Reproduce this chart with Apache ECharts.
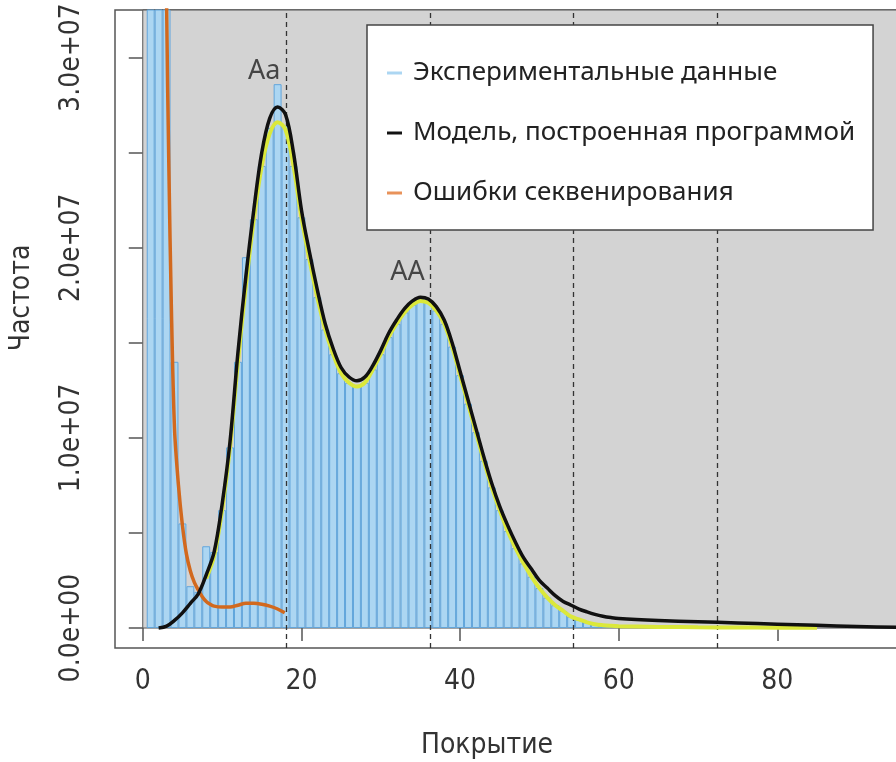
<!DOCTYPE html>
<html>
<head>
<meta charset="utf-8">
<script src="https://cdn.jsdelivr.net/npm/echarts@6/dist/echarts.min.js"></script>
<style>
  html, body { margin: 0; background: #fff; }
  #main { width: 896px; height: 762px; }
</style>
</head>
<body>
<div id="main"></div>
<script>
// frequencies are in millions (1e6)
const obsCoverage = [1,2,3,4,5,6,7,8,9,10,11,12,13,14,15,16,17,18,19,20,21,22,23,24,25,26,27,28,29,30,
  31,32,33,34,35,36,37,38,39,40,41,42,43,44,45,46,47,48,49,50,51,52,53,54,55,56,57,58,59,60];
const obsFreq = [120,70,40,14,5.5,2.2,1.9,4.3,4.0,6.2,
  9.5,14.0,19.5,21.5,24.3,26.3,28.6,26.4,24.3,21.6,
  19.4,17.4,15.7,14.4,13.4,12.9,12.7,12.9,13.6,14.4,
  15.3,16.0,16.6,17.0,17.3,17.1,16.7,16.0,14.8,13.3,
  11.8,10.3,8.8,7.4,6.2,5.1,4.2,3.4,2.7,2.1,
  1.6,1.2,0.9,0.6,0.45,0.3,0.2,0.15,0.12,0.1];

// smoothed data (yellow)
const fitCoverage = [8,9,10,11,12,13,14,15,16,17,18,19,20,21,22,23,24,25,26,27,28,29,30,31,32,33,34,35,36,37,
  38,39,40,41,42,43,44,45,46,47,48,49,50,51,52,53,54,55,56,57,58,59,60,65,70,75,80,85];
const fitFreq = [2.6,3.8,6.2,9.5,14.0,18.0,21.5,24.3,26.0,26.6,
  26.2,24.3,21.6,19.4,17.4,15.7,14.4,13.4,12.9,12.7,
  12.9,13.6,14.4,15.3,16.0,16.6,17.0,17.2,17.1,16.7,
  16.0,14.8,13.3,11.8,10.3,8.8,7.4,6.2,5.1,4.2,
  3.4,2.7,2.1,1.6,1.2,0.9,0.6,0.45,0.3,0.2,
  0.15,0.12,0.1,0.06,0.04,0.03,0.02,0.02];

// model fitted by the program (black)
const modelCoverage = [2,3,4,5,6,7,8,9,10,11,12,13,14,15,16,17,18,19,20,21,22,23,24,25,26,27,28,29,30,31,
  32,33,34,35,36,37,38,39,40,41,42,43,44,45,46,47,48,49,50,51,52,53,54,55,56,57,58,59,60,
  65,70,75,80,85,90,95,100];
const modelFreq = [0.0,0.1,0.4,0.8,1.3,1.8,2.8,4.0,6.5,9.8,
  14.5,18.5,22.0,25.0,26.8,27.4,27.0,25.0,22.0,19.8,
  17.8,16.0,14.7,13.7,13.2,13.0,13.2,13.8,14.6,15.5,
  16.2,16.8,17.2,17.4,17.3,16.9,16.2,15.0,13.5,12.0,
  10.5,9.0,7.6,6.4,5.4,4.5,3.7,3.1,2.5,2.1,
  1.7,1.4,1.2,1.0,0.85,0.72,0.62,0.55,0.5,
  0.4,0.33,0.27,0.2,0.14,0.08,0.04,0.02];

// sequencing errors (orange)
const errCoverage = [2.9,3.0,3.3,3.6,4.0,4.5,5.0,5.5,6.0,6.5,7.0,7.5,8.0,8.5,9,10,11,12,13,14,15,16,17,17.9];
const errFreq = [45,33,24,17,10.5,7.5,5.4,3.9,3.0,2.4,2.0,1.65,1.4,1.25,1.15,1.1,1.1,1.2,1.3,1.3,1.25,1.15,1.0,0.8];

const peakLines = [18.1, 36.2, 54.3, 72.4];
const peakNames = ['Aa', 'AA'];
const peakNameAt = [[17.6, 29.3], [35.8, 18.7]];

const xTicks = [0, 20, 40, 60, 80, 100];
const yTicks = [0, 5, 10, 15, 20, 25, 30];
const yLabels = [0, 10, 20, 30];
const xRange = [-3.5, 100];
const yRange = [-1.05, 32.5];

const legendNames = ['Экспериментальные данные', 'Модель, построенная программой', 'Ошибки секвенирования'];

const M = 1e6;
const pairs = (xs, ys) => xs.map((x, i) => [x, ys[i] * M]);
const sci = v => {
  if (v === 0) return '0.0e+00';
  const e = Math.floor(Math.log10(v));
  return (v / Math.pow(10, e)).toFixed(1) + 'e+' + String(e).padStart(2, '0');
};

const narrow = '"Liberation Sans Narrow", "DejaVu Sans Condensed", "Liberation Sans", sans-serif';
const gridLeft = 115, gridWidth = 821;
const barPx = gridWidth / (xRange[1] - xRange[0]);

const chart = echarts.init(document.getElementById('main'));
chart.setOption({
  animation: false,
  backgroundColor: '#fff',
  grid: {
    left: gridLeft, top: 10, width: gridWidth, height: 638,
    outerBoundsMode: 'none', containLabel: false,
    show: true, backgroundColor: '#fff', borderColor: '#555', borderWidth: 1.5
  },
  xAxis: {
    type: 'value', min: xRange[0], max: xRange[1],
    axisLine: { show: false },
    splitLine: { show: false },
    axisTick: { customValues: xTicks, length: 13, lineStyle: { color: '#555', width: 1.5 } },
    axisLabel: { customValues: xTicks, fontFamily: narrow, fontSize: 28, color: '#333', margin: 20 }
  },
  yAxis: {
    type: 'value', min: yRange[0] * M, max: yRange[1] * M,
    axisLine: { show: false },
    splitLine: { show: false },
    axisTick: { customValues: yTicks.map(v => v * M), length: 14, lineStyle: { color: '#555', width: 1.5 } },
    axisLabel: {
      customValues: yLabels.map(v => v * M), rotate: 90, margin: 29,
      fontFamily: narrow, fontSize: 28, color: '#333', formatter: sci
    }
  },
  legend: {
    data: legendNames,
    orient: 'vertical', left: 367, top: 25,
    icon: 'rect', itemWidth: 15, itemHeight: 3, itemGap: 30,
    padding: [33, 18, 22, 20],
    backgroundColor: '#fff', borderColor: '#444', borderWidth: 1.5,
    itemStyle: { borderWidth: 0 },
    textStyle: { fontFamily: '"Noto Sans", sans-serif', fontSize: 26, color: '#222', lineHeight: 30, padding: [0, 0, 0, 6] },
    selectedMode: false
  },
  graphic: [
    { type: 'text', x: 487, y: 746, style: { text: 'Покрытие', font: '28px ' + narrow, fill: '#333', textAlign: 'center', textVerticalAlign: 'middle' } },
    { type: 'text', x: 22, y: 298, rotation: Math.PI / 2, style: { text: 'Частота', font: '28px ' + narrow, fill: '#333', textAlign: 'center', textVerticalAlign: 'middle' } }
  ],
  series: [
    {
      name: legendNames[0], type: 'bar', z: 2,
      barWidth: barPx, data: pairs(obsCoverage, obsFreq),
      itemStyle: { color: '#acd6f2', borderColor: '#62a6dc', borderWidth: 1 },
      markArea: {
        z: 1, silent: true,
        itemStyle: { color: '#d3d3d3', borderColor: '#555', borderWidth: 1 },
        data: [[{ coord: [0, 0] }, { coord: [xRange[1], yRange[1] * M] }]]
      },
      markLine: {
        z: 3, silent: true, symbol: ['none', 'none'], label: { show: false },
        lineStyle: { color: '#333', type: [5, 4], width: 1.3 },
        data: peakLines.map(v => ({ xAxis: v }))
      }
    },
    {
      name: 'fit', type: 'line', z: 4, showSymbol: false, smooth: 0.35,
      data: pairs(fitCoverage, fitFreq),
      lineStyle: { color: '#dbe83a', width: 4 }, itemStyle: { color: '#dbe83a' }
    },
    {
      name: legendNames[2], type: 'line', z: 5, showSymbol: false, smooth: 0.3,
      data: pairs(errCoverage, errFreq),
      lineStyle: { color: '#d2691e', width: 3.5 }, itemStyle: { color: '#e8925a' }
    },
    {
      name: legendNames[1], type: 'line', z: 6, showSymbol: false, smooth: 0.35,
      data: pairs(modelCoverage, modelFreq),
      lineStyle: { color: '#111', width: 3.5, join: 'round' }, itemStyle: { color: '#111' }
    },
    {
      name: 'peaks', type: 'scatter', z: 7, symbolSize: 0, silent: true,
      data: peakNameAt.map((p, i) => [p[0], p[1] * M, peakNames[i]]),
      label: {
        show: true, position: 'left', distance: 2, formatter: p => p.value[2],
        fontFamily: '"Noto Sans", sans-serif', fontSize: 27, color: '#222'
      }
    }
  ]
});
</script>
</body>
</html>
